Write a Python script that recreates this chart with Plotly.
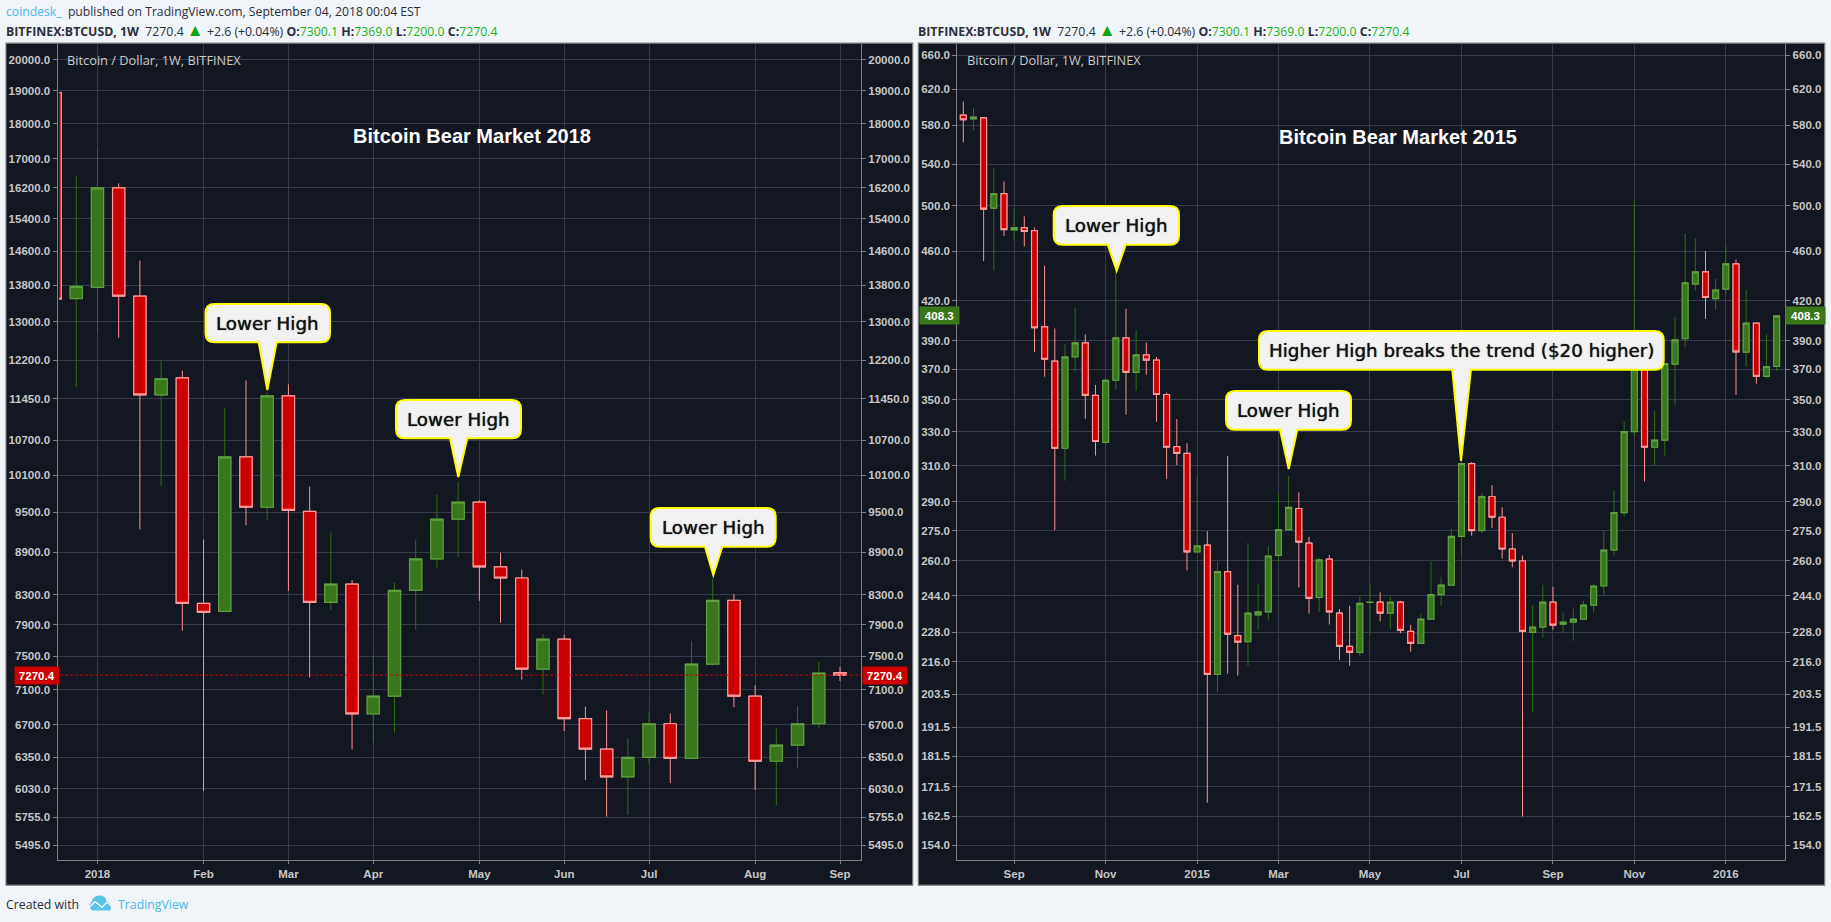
import math
import pandas as pd
import plotly.graph_objects as go

W, H = 1831, 922

# ---------- 2018 panel data (weekly bars) ----------
start_2018 = "2017-12-18"
open_2018 = [18950, 13504, 13756, 16200, 13556, 11527, 11854, 8180, 8073, 10409, 9581, 11508, 9516, 8193, 8443, 6822, 7022, 8357, 8800, 9395,
             9662, 8686, 8529, 7343, 7712, 6767, 6437, 6150, 6350, 6711, 6340, 7403, 8220, 7022, 6310, 6480, 6711, 7300.1]
high_2018 = [19000, 16513, 17267, 16320, 14373, 12200, 11995, 9085, 11273, 11803, 11565, 11726, 9911, 9190, 8500, 7517, 8462, 9085, 9781, 9992,
             9690, 8890, 8648, 7779, 7767, 6904, 6859, 6551, 6848, 6826, 7692, 8519, 8305, 7150, 6660, 6904, 7432, 7369]
low_2018 = [13490, 11674, 12788, 12665, 9240, 9916, 7821, 6007, 8073, 9300, 9375, 8352, 7242, 8096, 6434, 6507, 6616, 7833, 8667, 8824,
            8216, 7922, 7217, 7041, 6631, 6117, 5760, 5778, 6277, 6087, 6327, 7387, 6896, 6017, 5870, 6237, 6664, 7200]
close_2018 = [13490, 13778, 16200, 13556, 11527, 11835, 8180, 8060, 10409, 9581, 11508, 9532, 8193, 8443, 6822, 7022, 8357, 8800, 9395, 9662,
              8686, 8529, 7343, 7712, 6767, 6437, 6150, 6350, 6711, 6340, 7403, 8220, 7022, 6310, 6480, 6711, 7294, 7270.4]
yticks_2018 = [20000, 19000, 18000, 17000, 16200, 15400, 14600, 13800, 13000, 12200, 11450, 10700, 10100, 9500, 8900, 8300, 7900, 7500,
               7100, 6700, 6350, 6030, 5755, 5495]
xtick_dates_2018 = ["2018-01-01", "2018-02-05", "2018-03-05", "2018-04-02", "2018-05-07", "2018-06-04", "2018-07-02", "2018-08-06", "2018-09-03"]
xtick_text_2018 = ["2018", "Feb", "Mar", "Apr", "May", "Jun", "Jul", "Aug", "Sep"]
last_2018 = 7270.4

# ---------- 2015 panel data (weekly bars) ----------
start_2015 = "2014-07-28"
open_2015 = [591, 587, 588, 498, 511.4, 478.4, 480.4, 477.8, 400.2, 375.7, 320, 378.6, 388.6, 352.7, 323.5, 362.7, 392.2, 368, 380, 376.4,
             353.3, 321, 317, 264.4, 267.7, 211, 255, 226.6, 224.1, 235.4, 236.7, 262.7, 275.3, 286.4, 268.7, 243.1, 260.9, 236.2, 222.2, 219.7,
             240.9, 241, 236.2, 241, 228.4, 223.4, 233.6, 244.4, 248.7, 272.1, 311.1, 275, 292.8, 281.8, 265.8, 260, 228, 230.2, 241, 231.4,
             232.3, 233.6, 239.7, 248.3, 265.3, 284.2, 330, 373, 320.6, 324.8, 373.6, 391.5, 433, 442.9, 421.6, 429, 449.4, 382, 403, 365.3, 372]
high_2015 = [606, 599, 589, 535.6, 523, 497.6, 490.5, 480.4, 448, 399, 387.4, 414.4, 394.6, 359.6, 364, 444, 413.7, 397.6, 388.8, 378.6,
             354.6, 337.7, 323, 303.3, 274.7, 259.7, 315.5, 248.9, 268.7, 249.3, 267.3, 294, 304, 295, 271.8, 261.6, 263, 238, 239.4, 243.7,
             249.3, 245.4, 243.3, 241.6, 231.2, 235.9, 259.8, 252.6, 276, 312, 312, 294.6, 299, 287, 273.7, 262.6, 239.4, 248.9, 247.9, 236.4,
             238.1, 241.6, 249.3, 275, 296, 336.3, 505, 383, 342.7, 374, 407.5, 475.4, 471, 460.3, 437.4, 465, 453, 428.4, 403, 394.6, 409]
low_2015 = [562, 574.5, 451.6, 444, 473, 469.5, 464, 381.9, 365, 275.3, 301.5, 368.4, 337.9, 315.7, 321.6, 356.4, 340.4, 355.8, 366.4, 336,
            302.4, 310.2, 255.6, 264.4, 166.6, 204.1, 211.3, 210.5, 214.4, 229.1, 233, 259.4, 275, 247.6, 236, 236.5, 231.3, 216.7, 214.4, 218.3,
            226.6, 232.6, 229.5, 227.6, 220, 223.4, 233.6, 239.5, 248.7, 263.2, 272.4, 273.7, 276.3, 261.1, 257, 162.4, 197, 225.8, 229.1, 227.9,
            224.5, 233.6, 236.5, 244, 262.7, 282, 327, 301, 310, 315.7, 346.7, 385.5, 428, 406, 413.2, 425.4, 353, 372, 360.4, 364, 369]
close_2015 = [586, 589, 497, 511.4, 478.7, 480.4, 477, 399.5, 377, 320, 378.6, 388.6, 352.7, 324, 362.7, 392.2, 368, 380, 376.4, 353.3,
              320.6, 317, 264.4, 267.3, 211, 255, 227.2, 223.9, 236.2, 236.7, 262.4, 275.5, 287, 269.2, 242.7, 260.5, 236.7, 222.2, 219.7, 240.5,
              241, 236.2, 241, 228.8, 223.4, 233.6, 244.4, 248.7, 272.1, 311.1, 275, 292.8, 281.8, 265.8, 260, 228.4, 230.2, 241, 231, 232.3,
              233.6, 239.7, 248.3, 265.3, 284.3, 330, 373, 320.6, 324.8, 374, 390.7, 433.9, 442.9, 422.4, 428.3, 449.4, 382.1, 403, 365.3, 372, 408.3]
yticks_2015 = [660, 620, 580, 540, 500, 460, 420, 390, 370, 350, 330, 310, 290, 275, 260, 244, 228, 216, 203.5, 191.5, 181.5, 171.5, 162.5, 154]
xtick_dates_2015 = ["2014-09-01", "2014-11-03", "2015-01-05", "2015-03-02", "2015-05-04", "2015-07-06", "2015-09-07", "2015-11-02", "2016-01-04"]
xtick_text_2015 = ["Sep", "Nov", "2015", "Mar", "May", "Jul", "Sep", "Nov", "2016"]
last_2015 = 408.3

# ---------- colours ----------
PAGE = "#f1f4f8"
PANEL = "#131722"
GRID = "#363a4a"
AXIS = "#7f7f7f"
TICK = "#c6c6c6"
UP_FILL = "#39761c"
UP_EDGE = "#5f9f42"
UP_WICK = "#2f7012"
DN_FILL = "#cc0000"
DN_EDGE = "#ff9a9a"
DN_WICK = "#ff8f8f"
SANS = "Liberation Sans"
UI = "Open Sans"


def px(x):
    return x / W


def py(y):
    return 1 - y / H


def bar_dates(start, n):
    return [d.strftime("%Y-%m-%d") for d in pd.date_range(start, periods=n, freq="7D")]


def bar_pos(start, i):
    return (pd.Timestamp(start) + pd.Timedelta(days=7 * i)).strftime("%Y-%m-%d %H:%M")


fig = go.Figure()


def add_candles(dates, o, h, l, c, xa, ya):
    fig.add_trace(go.Candlestick(
        x=dates, open=o, high=h, low=l, close=c, xaxis=xa, yaxis=ya, showlegend=False,
        whiskerwidth=0,
        increasing=dict(line=dict(color=UP_WICK, width=1), fillcolor=UP_FILL),
        decreasing=dict(line=dict(color=DN_WICK, width=1), fillcolor=DN_FILL)))
    fig.add_trace(go.Candlestick(
        x=dates, open=o, close=c, xaxis=xa, yaxis=ya, showlegend=False,
        high=[max(a, b) for a, b in zip(o, c)], low=[min(a, b) for a, b in zip(o, c)],
        whiskerwidth=0, hoverinfo="skip",
        increasing=dict(line=dict(color=UP_EDGE, width=1.2), fillcolor=UP_FILL),
        decreasing=dict(line=dict(color=DN_EDGE, width=1.2), fillcolor=DN_FILL)))


dates_2018 = bar_dates(start_2018, len(open_2018))
dates_2015 = bar_dates(start_2015, len(open_2015))
add_candles(dates_2018, open_2018, high_2018, low_2018, close_2018, "x", "y")
add_candles(dates_2015, open_2015, high_2015, low_2015, close_2015, "x2", "y3")

# last-price line on the right-hand price scales
fig.add_trace(go.Scatter(x=[bar_pos(start_2018, 0), bar_pos(start_2018, 39)], y=[last_2018, last_2018], xaxis="x", yaxis="y2",
                         mode="lines", line=dict(color="#cc0000", width=1, dash="3px,2px"), showlegend=False, hoverinfo="skip"))
fig.add_trace(go.Scatter(x=[dates_2015[-1]], y=[last_2015], xaxis="x2", yaxis="y4", mode="markers",
                         marker=dict(opacity=0), showlegend=False, hoverinfo="skip"))

tickfont = dict(family=SANS, size=11.5, color=TICK, weight=700)
ydom = [py(860), py(43.5)]


def xaxis_cfg(dom, start, i0, i1, tv, tt):
    return dict(domain=dom, range=[bar_pos(start, i0), bar_pos(start, i1)], type="date", rangeslider=dict(visible=False),
                tickmode="array", tickvals=tv, ticktext=tt, showgrid=True, gridcolor=GRID, gridwidth=1, showline=True,
                linecolor=AXIS, linewidth=1, ticks="outside", ticklen=3, tickcolor=AXIS, tickfont=tickfont, zeroline=False)


def yaxis_cfg(rng, ticks, side, **kw):
    d = dict(type="log", range=rng, tickmode="array", tickvals=ticks, ticktext=[f"{t:.1f}" for t in ticks], side=side,
             showline=True, linecolor=AXIS, linewidth=1, ticks="outside", ticklen=4, tickcolor=AXIS, tickfont=tickfont, zeroline=False)
    d.update(kw)
    return d


rng_2018 = [3.7295, 4.3126]
rng_2015 = [2.1758, 2.8289]

shapes = []
# chart panels
for x0, x1 in [(6, 912.7), (918.3, 1824.7)]:
    shapes.append(dict(type="rect", xref="paper", yref="paper", x0=px(x0), x1=px(x1), y0=py(885.2), y1=py(43.2),
                       fillcolor=PANEL, line=dict(color="#7d7d7d", width=1.2), layer="below"))

# the first 2018 bar sits almost wholly behind the price scale
shapes.append(dict(type="rect", xref="paper", yref="paper", x0=px(58), x1=px(59.2), y0=py(300), y1=py(88),
                   fillcolor=PANEL, line=dict(width=0), layer="above"))


def callout(x0, x1, y0, y1, b0, b1, tx, ty, r=9):
    pts = [("M", x0 + r, y0), ("L", x1 - r, y0), ("Q", x1, y0, x1, y0 + r), ("L", x1, y1 - r), ("Q", x1, y1, x1 - r, y1),
           ("L", b1, y1), ("L", tx, ty), ("L", b0, y1), ("L", x0 + r, y1), ("Q", x0, y1, x0, y1 - r), ("L", x0, y0 + r),
           ("Q", x0, y0, x0 + r, y0)]
    parts = []
    for p in pts:
        coords = []
        for i in range(1, len(p), 2):
            coords.append(f"{px(p[i]):.6f},{py(p[i + 1]):.6f}")
        parts.append(p[0] + " " + " ".join(coords))
    return dict(type="path", xref="paper", yref="paper", path=" ".join(parts) + " Z", fillcolor="#f2f2f3",
                line=dict(color="#ffff00", width=2), layer="above")


CALLOUTS = [
    (205.5, 330, 304, 342.3, 258.7, 276.7, 267.3, 390, "Lower High"),
    (396, 521, 400, 438.3, 450, 467.3, 458.3, 477, "Lower High"),
    (650.7, 775.7, 508, 546.7, 705, 722.3, 713.3, 575, "Lower High"),
    (1053.7, 1179, 206, 244.7, 1107.7, 1125.7, 1116.7, 270.7, "Lower High"),
    (1259, 1663.7, 331, 369.7, 1452.3, 1471, 1461, 461, "Higher High breaks the trend ($20 higher)"),
    (1226, 1351, 391, 429.7, 1280, 1297.3, 1288.7, 469, "Lower High"),
]
for c in CALLOUTS:
    shapes.append(callout(*c[:8]))

# TradingView logo
shapes.append(dict(type="path", xref="paper", yref="paper", layer="above", fillcolor="#5bc3e8", line=dict(width=0),
                   path="M %f,%f Q %f,%f %f,%f Q %f,%f %f,%f Q %f,%f %f,%f Q %f,%f %f,%f L %f,%f Q %f,%f %f,%f Z" % (
                       px(92), py(910.5), px(87), py(906), px(91.5), py(902), px(93), py(895), px(100), py(895.5), px(106), py(896),
                       px(106.5), py(901), px(112.5), py(903), px(110.5), py(910.5), px(92), py(910.5), px(92), py(910.5), px(92), py(910.5))))
shapes.append(dict(type="path", xref="paper", yref="paper", layer="above", line=dict(color="white", width=1.2),
                   path=f"M {px(88.5)},{py(908)} L {px(95)},{py(901.5)} L {px(102)},{py(907.5)} L {px(107)},{py(902)} L {px(111.5)},{py(906)}"))

ann = []


def text(x, y, s, size, color, family=UI, xanchor="left", weight=None, shadow=None):
    f = dict(family=family, size=size, color=color)
    if weight:
        f["weight"] = weight
    if shadow:
        f["shadow"] = shadow
    ann.append(dict(xref="paper", yref="paper", x=px(x), y=py(y), text=s, showarrow=False, xanchor=xanchor, yanchor="middle",
                    font=f, borderpad=0, borderwidth=0))


GREEN_TXT = "#19b31e"
def g(s):
    return f'<span style="color:{GREEN_TXT}">{s}</span>'


text(6, 11.5, '<span style="color:#4cb8e6">coindesk_</span>  published on TradingView.com, September 04, 2018 00:04 EST', 12.2, "#2a2e39")
header = ("<b>BITFINEX:BTCUSD, 1W</b>  7270.4 " + '<span style="color:#0aa50a;font-size:17px">▲</span>' + " +2.6 (+0.04%) <b>O:</b>" + g("7300.1") +
          " <b>H:</b>" + g("7369.0") + " <b>L:</b>" + g("7200.0") + " <b>C:</b>" + g("7270.4"))
text(6, 29.5, header, 12.3, "#2a2e39")
text(918, 29.5, header, 12.3, "#2a2e39")
text(6, 904.5, "Created with", 12.3, "#2a2e39")
text(118, 904.5, "TradingView", 12.3, "#4cb8e6")

text(67.3, 60.3, "Bitcoin / Dollar, 1W, BITFINEX", 12.8, "#cacaca")
text(967.3, 60.3, "Bitcoin / Dollar, 1W, BITFINEX", 12.8, "#cacaca")
text(472, 135.7, "Bitcoin Bear Market 2018", 20, "#ffffff", family=SANS, xanchor="center", weight=700)
text(1398, 136.7, "Bitcoin Bear Market 2015", 20, "#ffffff", family=SANS, xanchor="center", weight=700)

for c in CALLOUTS:
    text((c[0] + c[1]) / 2, (c[2] + c[3]) / 2, c[8], 18.3, "#131313", family="DejaVu Sans", xanchor="center", shadow="0 0 1px #131313")


def price_box(x_right_edge, anchor, yref, value, fill, width):
    ann.append(dict(xref="paper", yref=yref, x=px(x_right_edge), y=math.log10(value), text=f"<b>{value:.1f}</b>", showarrow=False,
                    xanchor=anchor, yanchor="middle", bgcolor=fill, width=width, height=15, align="center", borderpad=1,
                    font=dict(family=SANS, size=11.5, color="#ffffff")))


price_box(14, "left", "y", last_2018, "#cc0000", 41.5)
price_box(861.5, "left", "y", last_2018, "#cc0000", 41.5)
price_box(919, "left", "y3", last_2015, UP_FILL, 36.5)
price_box(1785.3, "left", "y3", last_2015, UP_FILL, 37)

fig.update_layout(
    width=W, height=H, autosize=False, margin=dict(l=0, r=0, t=0, b=0), paper_bgcolor=PAGE, plot_bgcolor=PANEL,
    showlegend=False, boxgap=0.42, boxgroupgap=0, boxmode="overlay",
    xaxis=xaxis_cfg([px(57.5), px(861)], start_2018, 0.116, 37.99, xtick_dates_2018, xtick_text_2018),
    xaxis2=xaxis_cfg([px(957.3), px(1785.3)], start_2015, -0.59, 80.85, xtick_dates_2015, xtick_text_2015),
    yaxis=yaxis_cfg(rng_2018, yticks_2018, "left", showgrid=True, gridcolor=GRID, gridwidth=1, domain=ydom, anchor="x"),
    yaxis2=yaxis_cfg(rng_2018, yticks_2018, "right", showgrid=False, overlaying="y", anchor="x"),
    yaxis3=yaxis_cfg(rng_2015, yticks_2015, "left", showgrid=True, gridcolor=GRID, gridwidth=1, domain=ydom, anchor="x2"),
    yaxis4=yaxis_cfg(rng_2015, yticks_2015, "right", showgrid=False, overlaying="y3", anchor="x2"),
    shapes=shapes, annotations=ann,
)
fig.write_html("out.html", post_script="document.body.style.margin='0';document.documentElement.style.overflow='hidden';", config=dict(displayModeBar=False))
